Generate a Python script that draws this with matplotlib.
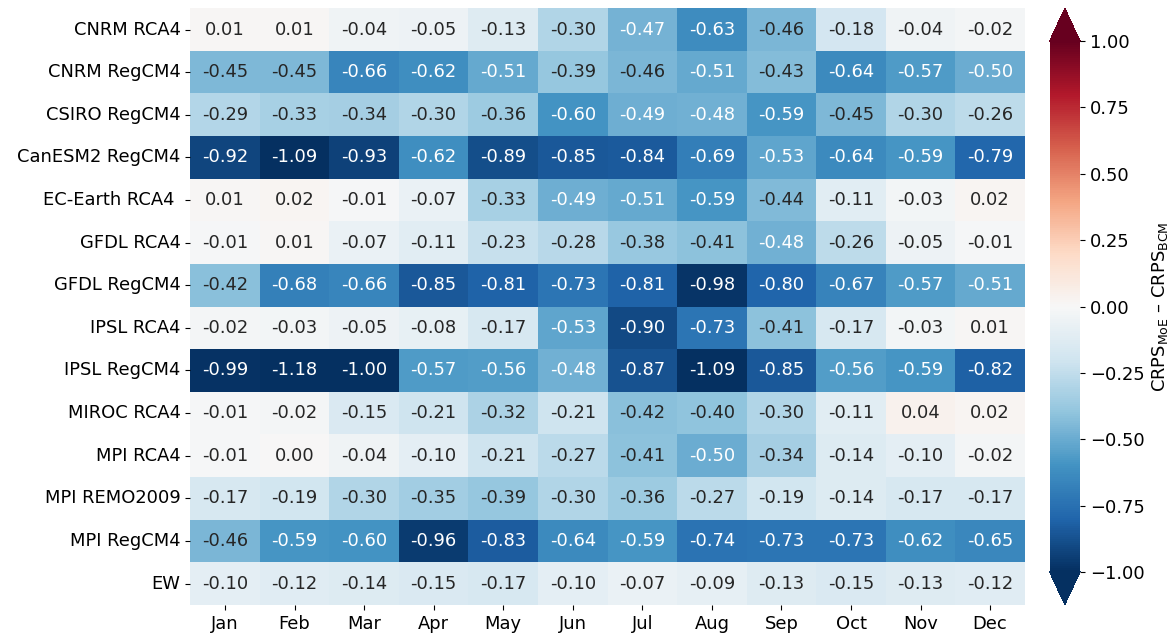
import matplotlib

matplotlib.use("Agg", force=True)

import matplotlib.pyplot as plt
import numpy as np
import pandas as pd
import seaborn as sns

MODELS = [
    "CNRM RCA4",
    "CNRM RegCM4",
    "CSIRO RegCM4",
    "CanESM2 RegCM4",
    "EC-Earth RCA4 ",
    "GFDL RCA4",
    "GFDL RegCM4",
    "IPSL RCA4",
    "IPSL RegCM4",
    "MIROC RCA4",
    "MPI RCA4",
    "MPI REMO2009",
    "MPI RegCM4",
    "EW",
]
MONTHS = ["Jan", "Feb", "Mar", "Apr", "May", "Jun",
          "Jul", "Aug", "Sep", "Oct", "Nov", "Dec"]

CNRM_RCA4 = [0.01, 0.01, -0.04, -0.05, -0.13, -0.30, -0.47, -0.63, -0.46, -0.18, -0.04, -0.02]
CNRM_REGCM4 = [-0.45, -0.45, -0.66, -0.62, -0.51, -0.39, -0.46, -0.51, -0.43, -0.64, -0.57, -0.50]
CSIRO_REGCM4 = [-0.29, -0.33, -0.34, -0.30, -0.36, -0.60, -0.49, -0.48, -0.59, -0.45, -0.30, -0.26]
CANESM2_REGCM4 = [-0.92, -1.09, -0.93, -0.62, -0.89, -0.85, -0.84, -0.69, -0.53, -0.64, -0.59, -0.79]
ECEARTH_RCA4 = [0.01, 0.02, -0.01, -0.07, -0.33, -0.49, -0.51, -0.59, -0.44, -0.11, -0.03, 0.02]
GFDL_RCA4 = [-0.01, 0.01, -0.07, -0.11, -0.23, -0.28, -0.38, -0.41, -0.48, -0.26, -0.05, -0.01]
GFDL_REGCM4 = [-0.42, -0.68, -0.66, -0.85, -0.81, -0.73, -0.81, -0.98, -0.80, -0.67, -0.57, -0.51]
IPSL_RCA4 = [-0.02, -0.03, -0.05, -0.08, -0.17, -0.53, -0.90, -0.73, -0.41, -0.17, -0.03, 0.01]
IPSL_REGCM4 = [-0.99, -1.18, -1.00, -0.57, -0.56, -0.48, -0.87, -1.09, -0.85, -0.56, -0.59, -0.82]
MIROC_RCA4 = [-0.01, -0.02, -0.15, -0.21, -0.32, -0.21, -0.42, -0.40, -0.30, -0.11, 0.04, 0.02]
MPI_RCA4 = [-0.01, 0.00, -0.04, -0.10, -0.21, -0.27, -0.41, -0.50, -0.34, -0.14, -0.10, -0.02]
MPI_REMO2009 = [-0.17, -0.19, -0.30, -0.35, -0.39, -0.30, -0.36, -0.27, -0.19, -0.14, -0.17, -0.17]
MPI_REGCM4 = [-0.46, -0.59, -0.60, -0.96, -0.83, -0.64, -0.59, -0.74, -0.73, -0.73, -0.62, -0.65]
EW = [-0.10, -0.12, -0.14, -0.15, -0.17, -0.10, -0.07, -0.09, -0.13, -0.15, -0.13, -0.12]

ROWS = [CNRM_RCA4, CNRM_REGCM4, CSIRO_REGCM4, CANESM2_REGCM4, ECEARTH_RCA4,
        GFDL_RCA4, GFDL_REGCM4, IPSL_RCA4, IPSL_REGCM4, MIROC_RCA4,
        MPI_RCA4, MPI_REMO2009, MPI_REGCM4, EW]

FONT_SIZE = 12.9

frame = pd.DataFrame(np.array(ROWS), index=MODELS, columns=MONTHS)

plt.rcParams["font.size"] = FONT_SIZE
plt.rcParams["font.family"] = ["DejaVu Sans"]

fig = plt.figure(figsize=(11.74, 6.34), dpi=100)
ax = fig.add_axes([0.162, 0.046, 0.711, 0.941])
cax = fig.add_axes([0.894, 0.046, 0.026, 0.941])

sns.heatmap(
    frame,
    ax=ax,
    cbar_ax=cax,
    cmap="RdBu_r",
    vmin=-1,
    vmax=1,
    annot=True,
    fmt=".2f",
    annot_kws={"fontsize": FONT_SIZE},
    cbar_kws={"extend": "both", "extendfrac": 0.062},
)

ax.tick_params(axis="both", labelsize=FONT_SIZE)
plt.setp(ax.get_yticklabels(), rotation=0)
plt.setp(ax.get_xticklabels(), rotation=0)

cbar = ax.collections[0].colorbar
cbar.set_ticks([-1.0, -0.75, -0.5, -0.25, 0.0, 0.25, 0.5, 0.75, 1.0])
cbar.ax.tick_params(labelsize=FONT_SIZE)
cbar.outline.set_visible(False)
cbar.set_label(r"CRPS$_{\mathrm{MoE}}$ – CRPS$_{\mathrm{BCM}}$", fontsize=FONT_SIZE)

fig.savefig("out.png", dpi=100)
plt.close(fig)
